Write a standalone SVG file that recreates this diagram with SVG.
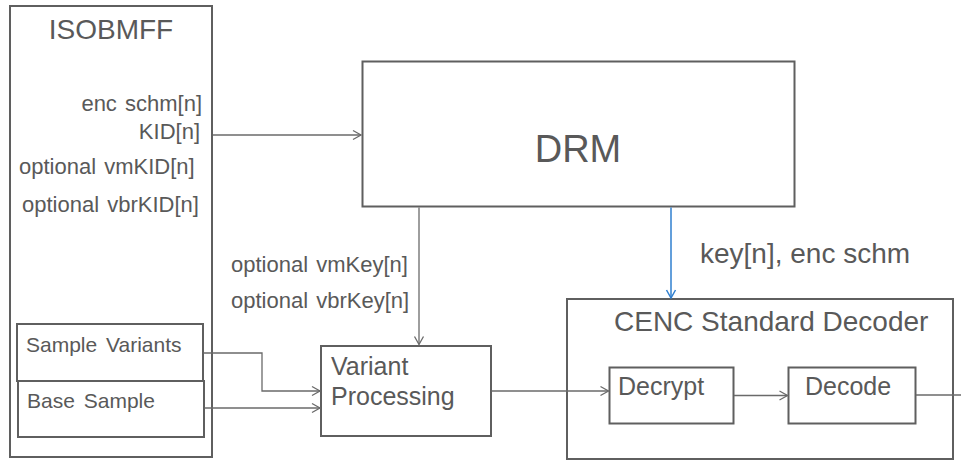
<svg xmlns="http://www.w3.org/2000/svg" width="961" height="461" viewBox="0 0 961 461">
<style>
.box{fill:#fff;stroke:#5f5f5f;stroke-width:2}
.t{font-family:"Liberation Sans",Arial,sans-serif;fill:#595959}
.s{font-size:22px;word-spacing:2px}
.m{font-size:25px}
.c{fill:none;stroke:#6a6a6a;stroke-width:1.3}
.b{fill:none;stroke:#2f7fcf;stroke-width:1.5}
</style>
<defs>
<marker id="ah" markerWidth="12" markerHeight="12" refX="9" refY="6" orient="auto" markerUnits="userSpaceOnUse">
<path d="M1,1.5 L9,6 L1,10.5" fill="none" stroke="#6a6a6a" stroke-width="1.3"/>
</marker>
<marker id="ahb" markerWidth="12" markerHeight="12" refX="9" refY="6" orient="auto" markerUnits="userSpaceOnUse">
<path d="M1,1.5 L9,6 L1,10.5" fill="none" stroke="#2f7fcf" stroke-width="1.5"/>
</marker>
</defs>
<rect width="961" height="461" fill="#fff"/>
<g id="isobmff">
<rect class="box" x="10" y="6" width="202" height="451"/>
<text class="t" x="111" y="39" font-size="28" text-anchor="middle">ISOBMFF</text>
<text class="t s" x="202" y="111" text-anchor="end">enc schm[n]</text>
<text class="t s" x="200" y="139" text-anchor="end">KID[n]</text>
<text class="t s" x="19" y="174">optional vmKID[n]</text>
<text class="t s" x="22" y="212">optional vbrKID[n]</text>
</g>
<g id="sample-variants">
<rect class="box" x="17" y="324" width="186" height="57"/>
<text class="t" x="26" y="352" font-size="21" word-spacing="3">Sample Variants</text>
</g>
<g id="base-sample">
<rect class="box" x="18" y="381" width="186" height="56"/>
<text class="t" x="27" y="408" font-size="21" word-spacing="3">Base Sample</text>
</g>
<g id="drm">
<rect class="box" x="362.5" y="61.5" width="432" height="145"/>
<text class="t" x="578" y="162" font-size="38" text-anchor="middle">DRM</text>
</g>
<g id="variant-processing">
<rect class="box" x="321" y="346" width="170" height="90"/>
<text class="t m" x="331" y="375">Variant</text>
<text class="t m" x="331" y="405">Processing</text>
</g>
<g id="cenc">
<rect class="box" x="567" y="299" width="386" height="160"/>
<text class="t" x="614" y="331" font-size="28">CENC Standard Decoder</text>
</g>
<g id="decrypt">
<rect class="box" x="609.5" y="367.5" width="124" height="56"/>
<text class="t m" x="618" y="395">Decrypt</text>
</g>
<g id="decode">
<rect class="box" x="788.5" y="367.5" width="127" height="56"/>
<text class="t m" x="805" y="395">Decode</text>
</g>
<g id="connectors">
<line class="c" x1="213" y1="135" x2="361" y2="135" marker-end="url(#ah)"/>
<line class="c" x1="419" y1="207.5" x2="419" y2="344.5" marker-end="url(#ah)"/>
<polyline class="c" points="203.5,353 262,353 262,391 320,391" marker-end="url(#ah)"/>
<line class="c" x1="204.5" y1="408" x2="320" y2="408" marker-end="url(#ah)"/>
<line class="c" x1="491.5" y1="391" x2="608.5" y2="391" marker-end="url(#ah)"/>
<line class="c" x1="734" y1="395.5" x2="787.5" y2="395.5" marker-end="url(#ah)"/>
<line class="c" x1="916" y1="395" x2="961" y2="395"/>
<line class="b" x1="671" y1="207.5" x2="671" y2="298" marker-end="url(#ahb)"/>
<text class="t" x="700" y="263" font-size="28">key[n], enc schm</text>
<text class="t s" x="231" y="272">optional vmKey[n]</text>
<text class="t s" x="231" y="308">optional vbrKey[n]</text>
</g>
</svg>
